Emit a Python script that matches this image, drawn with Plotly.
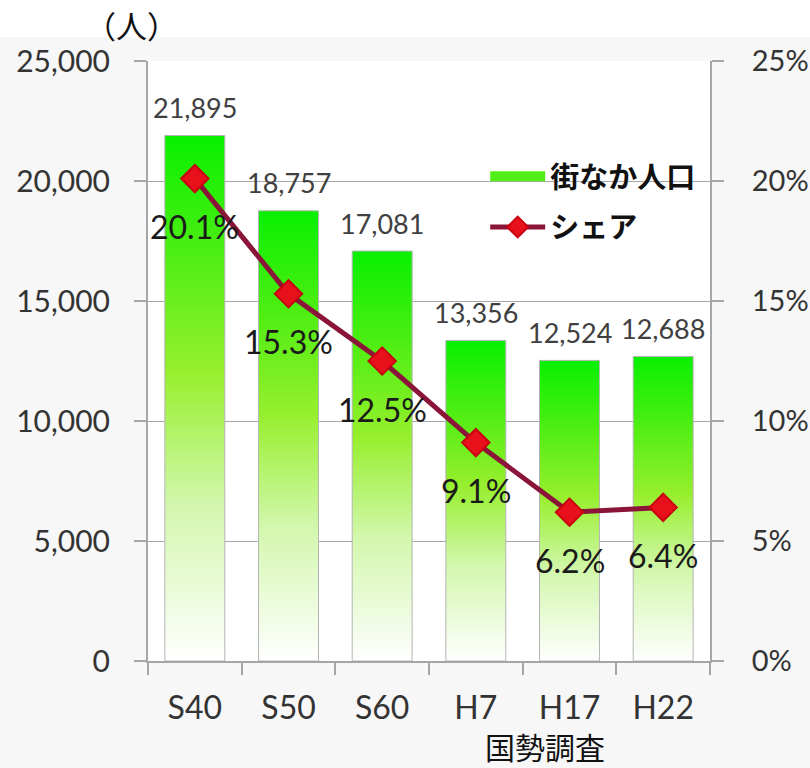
import plotly.graph_objects as go

categories = ["S40", "S50", "S60", "H7", "H17", "H22"]
population = [21895, 18757, 17081, 13356, 12524, 12688]
share = [0.201, 0.153, 0.125, 0.091, 0.062, 0.064]
share_labels = ["20.1%", "15.3%", "12.5%", "9.1%", "6.2%", "6.4%"]
pop_name = "街なか人口"
share_name = "シェア"
y_unit = "（人）"
x_title = "国勢調査"

NUM_FONT = "Lato, 'Noto Sans', sans-serif"
JP_FONT = "'Noto Sans CJK JP', sans-serif"
GRID = "#a8a8a8"
AXIS = "#a6a6a6"
HALF_W = 0.32

gradient = [[0.0, "#ffffff"], [0.3, "#d2f7ac"], [0.55, "#96ef2c"],
            [0.78, "#4cee12"], [1.0, "#08f000"]]

fig = go.Figure()

for i, (cat, v) in enumerate(zip(categories, population)):
    fig.add_trace(go.Scatter(
        x=[i - HALF_W, i - HALF_W, i + HALF_W, i + HALF_W, i - HALF_W],
        y=[0, v, v, 0, 0],
        mode="lines",
        fill="toself",
        fillgradient=dict(type="vertical", colorscale=gradient),
        line=dict(color="#b4b4b4", width=1),
        name=pop_name,
        legendgroup="pop",
        showlegend=False,
        hoverinfo="skip",
        xaxis="x", yaxis="y",
    ))

# legend entry for the bars
fig.add_trace(go.Scatter(
    x=[None], y=[None], mode="lines",
    line=dict(color="#52ee18", width=12),
    name=pop_name, legendgroup="pop", showlegend=True,
    xaxis="x", yaxis="y",
))

fig.add_trace(go.Scatter(
    x=list(range(len(categories))),
    y=share,
    mode="lines+markers",
    name=share_name,
    line=dict(color="#8b1538", width=5),
    marker=dict(symbol="diamond", size=21, color="#e8101a",
                line=dict(color="#c80010", width=2)),
    xaxis="x", yaxis="y2",
))

annotations = []
for i, v in enumerate(population):
    annotations.append(dict(x=i, y=v, xref="x", yref="y", text=f"{v:,}",
                            showarrow=False, yshift=28,
                            xanchor="center", yanchor="middle",
                            font=dict(family=NUM_FONT, size=27, color="#404040")))
for i, (s, t) in enumerate(zip(share, share_labels)):
    annotations.append(dict(x=i, y=s, xref="x", yref="y2", text=t,
                            showarrow=False, yshift=-48,
                            xanchor="center", yanchor="middle",
                            font=dict(family=NUM_FONT, size=32, color="#1a1a1a")))
annotations.append(dict(x=-0.03, y=1.06, xref="paper", yref="paper",
                        text=y_unit, showarrow=False,
                        xanchor="center", yanchor="middle",
                        font=dict(family=JP_FONT, size=31, color="#111111")))
annotations.append(dict(x=0.706, y=-0.142, xref="paper", yref="paper",
                        text=x_title, showarrow=False,
                        xanchor="center", yanchor="middle",
                        font=dict(family=JP_FONT, size=30, color="#111111")))

fig.update_layout(
    width=810, height=768,
    margin=dict(l=148, r=100, t=61, b=107),
    paper_bgcolor="#f7f7f7",
    plot_bgcolor="#ffffff",
    showlegend=True,
    legend=dict(x=0.6, y=0.85, xanchor="left", yanchor="top",
                bgcolor="rgba(0,0,0,0)", itemwidth=55,
                font=dict(family=JP_FONT, size=29, color="#111111", weight="bold")),
    xaxis=dict(range=[-0.5, 5.5], tickmode="array", automargin=False,
               tickvals=list(range(len(categories))), ticktext=categories,
               showgrid=False, zeroline=False,
               showline=True, linecolor=AXIS, linewidth=2,
               ticks="", ticklabelstandoff=18,
               minor=dict(tickmode="array",
                          tickvals=[k - 0.5 for k in range(len(categories) + 1)],
                          ticks="outside", ticklen=12, tickcolor=AXIS, tickwidth=2,
                          showgrid=False),
               tickfont=dict(family=NUM_FONT, size=32, color="#333333")),
    yaxis=dict(range=[0, 25000], dtick=5000, tickformat=",", automargin=False,
               showgrid=True, gridcolor=GRID, gridwidth=1, zeroline=False,
               showline=True, linecolor=AXIS, linewidth=2,
               ticks="outside", ticklen=12, tickcolor=AXIS, tickwidth=2,
               ticklabelstandoff=18,
               tickfont=dict(family=NUM_FONT, size=30, color="#333333")),
    yaxis2=dict(range=[0, 0.25], dtick=0.05, tickformat=".0%", automargin=False,
                overlaying="y", side="right", showgrid=False, zeroline=False,
                showline=True, linecolor=AXIS, linewidth=2,
                ticks="outside", ticklen=12, tickcolor=AXIS, tickwidth=2,
                ticklabelstandoff=22,
                tickfont=dict(family=NUM_FONT, size=29, color="#333333")),
    annotations=annotations,
    shapes=[dict(type="rect", xref="paper", yref="paper",
                 x0=-0.3, x1=1.2, y0=1.04, y1=1.12, fillcolor="#ffffff",
                 line=dict(width=0), layer="below")],
)

fig.write_html("out.html")
